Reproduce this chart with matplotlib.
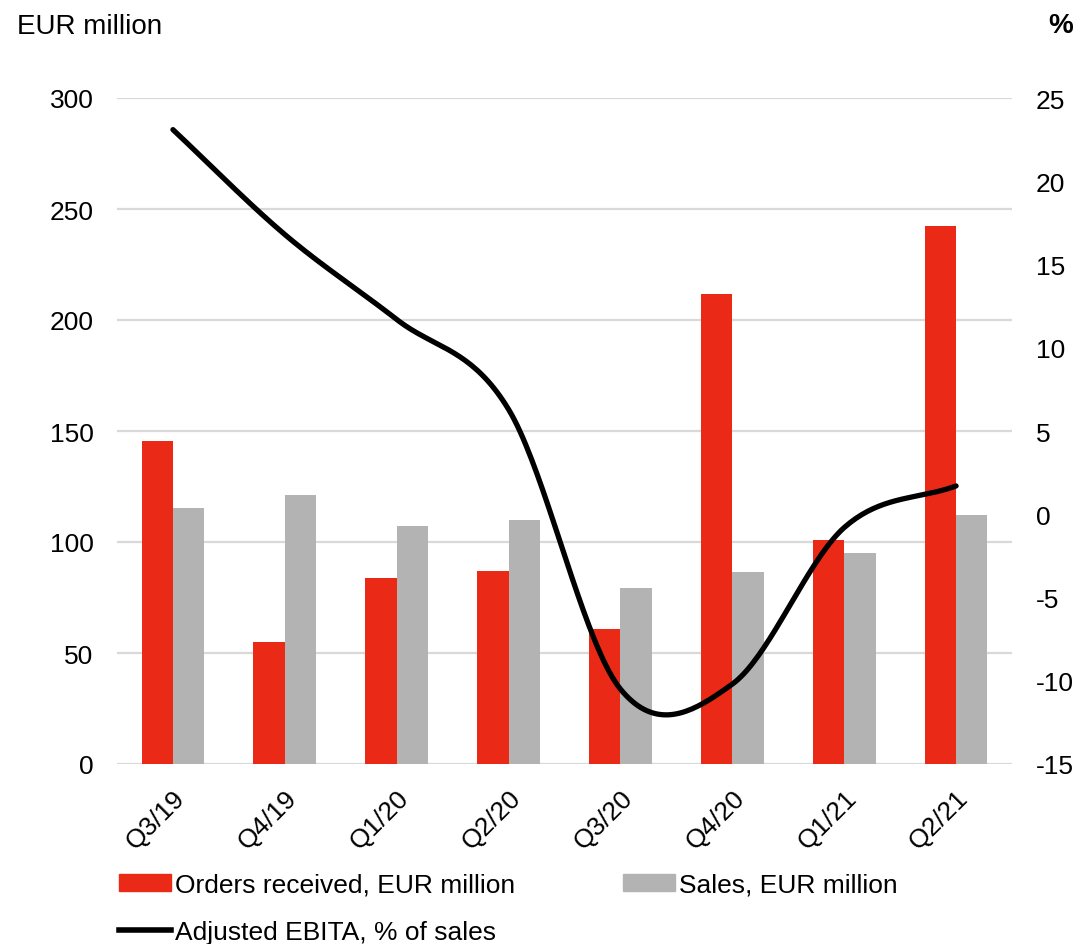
import numpy as np
import matplotlib
matplotlib.use("Agg")
import matplotlib.pyplot as plt
from matplotlib.patches import Patch
from matplotlib.lines import Line2D

plt.rcParams['font.family'] = ['Liberation Sans', 'DejaVu Sans']
plt.rcParams['axes.unicode_minus'] = False

quarters = ["Q3/19", "Q4/19", "Q1/20", "Q2/20", "Q3/20", "Q4/20", "Q1/21", "Q2/21"]
orders = [145.5, 55, 84, 87, 61, 211.5, 101, 242.5]
sales = [115.5, 121, 107, 110, 79.5, 86.5, 95, 112]
ebita_pct = [23.1, 16.8, 11.7, 6.3, -10.5, -10.2, -0.8, 1.7]

left_ticks = [0, 50, 100, 150, 200, 250, 300]
right_ticks = [-15, -10, -5, 0, 5, 10, 15, 20, 25]

RED = "#EA2A17"
GRAY = "#B3B3B3"
GRID = "#D9D9D9"
FS = 19

fig = plt.figure(figsize=(10.81, 9.45), dpi=100)
ax = fig.add_axes([117/1081, 1-765/945, (1012-117)/1081, (765-99)/945])

x = np.arange(len(quarters))
bw = 0.28
ax.bar(x - bw/2, orders, width=bw, color=RED, zorder=2)
ax.bar(x + bw/2, sales, width=bw, color=GRAY, zorder=2)

ax.set_xlim(-0.5, len(quarters) - 0.5)
ax.set_ylim(0, 300)
ax.set_yticks(left_ticks)
ax.yaxis.grid(True, color=GRID, linewidth=1.6, zorder=0)
ax.set_axisbelow(True)
for s in ax.spines.values():
    s.set_visible(False)
ax.tick_params(axis='y', length=0, pad=17, labelsize=FS)
ax.tick_params(axis='x', length=0, pad=15, labelsize=FS)
ax.set_xticks(x)
ax.set_xticklabels(quarters, rotation=45, ha='right', va='top', rotation_mode='anchor')

# right axis
ax2 = ax.twinx()
ax2.set_ylim(-15, 25)
ax2.set_yticks(right_ticks)
for s in ax2.spines.values():
    s.set_visible(False)
ax2.tick_params(axis='y', length=0, pad=17, labelsize=FS)

# smooth line (Catmull-Rom through data points)
px = np.array(x, dtype=float)
py = np.array(ebita_pct, dtype=float)
xs_all, ys_all = [], []
n = len(px)
for i in range(n - 1):
    p0 = py[i - 1] if i > 0 else py[i]
    p1 = py[i]
    p2 = py[i + 1]
    p3 = py[i + 2] if i + 2 < n else py[i + 1]
    m1 = (p2 - p0) / 2 if i > 0 else (p2 - p1)
    m2 = (p3 - p1) / 2 if i + 2 < n else (p2 - p1)
    t = np.linspace(0, 1, 40)
    h00 = 2*t**3 - 3*t**2 + 1
    h10 = t**3 - 2*t**2 + t
    h01 = -2*t**3 + 3*t**2
    h11 = t**3 - t**2
    ys_all.append(h00*p1 + h10*m1 + h01*p2 + h11*m2)
    xs_all.append(px[i] + t)
ax2.plot(np.concatenate(xs_all), np.concatenate(ys_all), color='black',
         linewidth=3.8, solid_capstyle='round', zorder=5)

fig.text(17/1081, 1-27/945, "EUR million", fontsize=20, ha='left', va='center')
fig.text(1061/1081, 1-26/945, "%", fontsize=20, ha='center', va='center', fontweight='bold')

handles = [Patch(color=RED), Line2D([0], [0], color='black', linewidth=4),
           Patch(color=GRAY)]
labels = ["Orders received, EUR million", "Adjusted EBITA, % of sales",
          "Sales, EUR million"]
fig.legend(handles, labels, loc='upper left', bbox_to_anchor=(119/1081, 1-874/945),
           ncol=2, frameon=False, fontsize=FS, handlelength=1.97, handleheight=0.64,
           handletextpad=0.15, columnspacing=4.09, labelspacing=0.86, borderpad=0,
           borderaxespad=0)

fig.savefig("out.png", dpi=100)
